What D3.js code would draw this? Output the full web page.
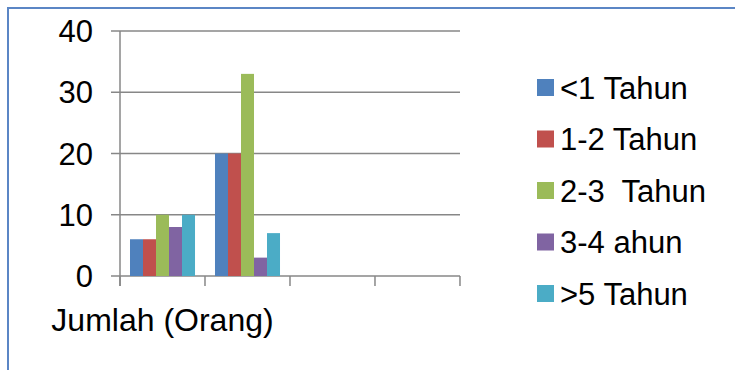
<!DOCTYPE html>
<html>
<head>
<meta charset="utf-8">
<script src="https://cdn.jsdelivr.net/npm/d3@7"></script>
<style>
  html, body { margin: 0; padding: 0; background: #fff; }
  svg { display: block; }
  text { font-family: "Liberation Sans", Arial, sans-serif; fill: #000; white-space: pre; }
</style>
</head>
<body>
<svg id="chart" width="735" height="370"></svg>
<script>
// ---- data ----
const categories = ["Jumlah (Orang)", "", "", ""];
const seriesNames = ["<1 Tahun", "1-2 Tahun", "2-3  Tahun", "3-4 ahun", ">5 Tahun"];
const lessThan1 = [6, 20];
const oneToTwo = [6, 20];
const twoToThree = [10, 33];
const threeToFour = [8, 3];
const moreThan5 = [10, 7];
const yTicks = [0, 10, 20, 30, 40];
const colors = ["#4F81BD", "#C0504D", "#9BBB59", "#8064A2", "#4BACC6"];

const seriesValues = [lessThan1, oneToTwo, twoToThree, threeToFour, moreThan5];

const svg = d3.select("#chart");

// frame
svg.append("path")
  .attr("d", "M8,370 L8,8 L735,8")
  .attr("fill", "none")
  .attr("stroke", "#5B86C5")
  .attr("stroke-width", 2);

const pLeft = 120, pRight = 460, pTop = 31, pBottom = 276;

const x0 = d3.scaleBand()
  .domain(d3.range(categories.length))
  .range([pLeft, pRight])
  .paddingInner(0.235)
  .paddingOuter(0.1176);

const x1 = d3.scaleBand()
  .domain(d3.range(seriesNames.length))
  .range([0, x0.bandwidth()]);

const y = d3.scaleLinear().domain([0, 40]).range([pBottom, pTop]);

const gridColor = "#878787";

// gridlines
svg.append("g")
  .selectAll("line")
  .data(yTicks)
  .join("line")
  .attr("x1", pLeft - 9)
  .attr("x2", pRight)
  .attr("y1", d => y(d))
  .attr("y2", d => y(d))
  .attr("stroke", gridColor)
  .attr("stroke-width", 1.5);

// y axis line
svg.append("line")
  .attr("x1", pLeft).attr("x2", pLeft)
  .attr("y1", pTop).attr("y2", pBottom + 10)
  .attr("stroke", gridColor).attr("stroke-width", 1.5);

// y tick labels
svg.append("g")
  .selectAll("text")
  .data(yTicks)
  .join("text")
  .attr("x", 93)
  .attr("y", d => y(d))
  .attr("dy", "0.36em")
  .attr("text-anchor", "end")
  .attr("font-size", 31)
  .text(d => d);

// x ticks (category boundaries)
const xStep = x0.step();
const boundaries = d3.range(categories.length + 1).map(i => pLeft + i * xStep);
svg.append("g")
  .selectAll("line")
  .data(boundaries)
  .join("line")
  .attr("x1", d => d).attr("x2", d => d)
  .attr("y1", pBottom).attr("y2", pBottom + 10)
  .attr("stroke", gridColor).attr("stroke-width", 1.5);

// bars
const barData = [];
seriesValues.forEach((vals, s) => {
  vals.forEach((v, c) => barData.push({ s, c, v }));
});
svg.append("g")
  .selectAll("rect")
  .data(barData)
  .join("rect")
  .attr("x", d => x0(d.c) + x1(d.s))
  .attr("y", d => y(d.v))
  .attr("width", x1.bandwidth())
  .attr("height", d => y(0) - y(d.v))
  .attr("fill", d => colors[d.s]);

// category labels
svg.append("g")
  .selectAll("text")
  .data(categories)
  .join("text")
  .attr("x", (d, i) => x0(i) + x0.bandwidth() / 2)
  .attr("y", 331)
  .attr("text-anchor", "middle")
  .attr("font-size", 32)
  .text(d => d);

// legend
const legend = svg.append("g");
const legendY = d3.scaleLinear().domain([0, 4]).range([87.5, 293.5]);
const items = legend.selectAll("g")
  .data(seriesNames)
  .join("g")
  .attr("transform", (d, i) => `translate(537,${legendY(i)})`);
items.append("rect")
  .attr("x", 0).attr("y", -8.5)
  .attr("width", 17).attr("height", 17)
  .attr("fill", (d, i) => colors[i]);
items.append("text")
  .attr("x", 23)
  .attr("y", 0)
  .attr("dy", "0.36em")
  .attr("font-size", 31)
  .text(d => d);
</script>
</body>
</html>
